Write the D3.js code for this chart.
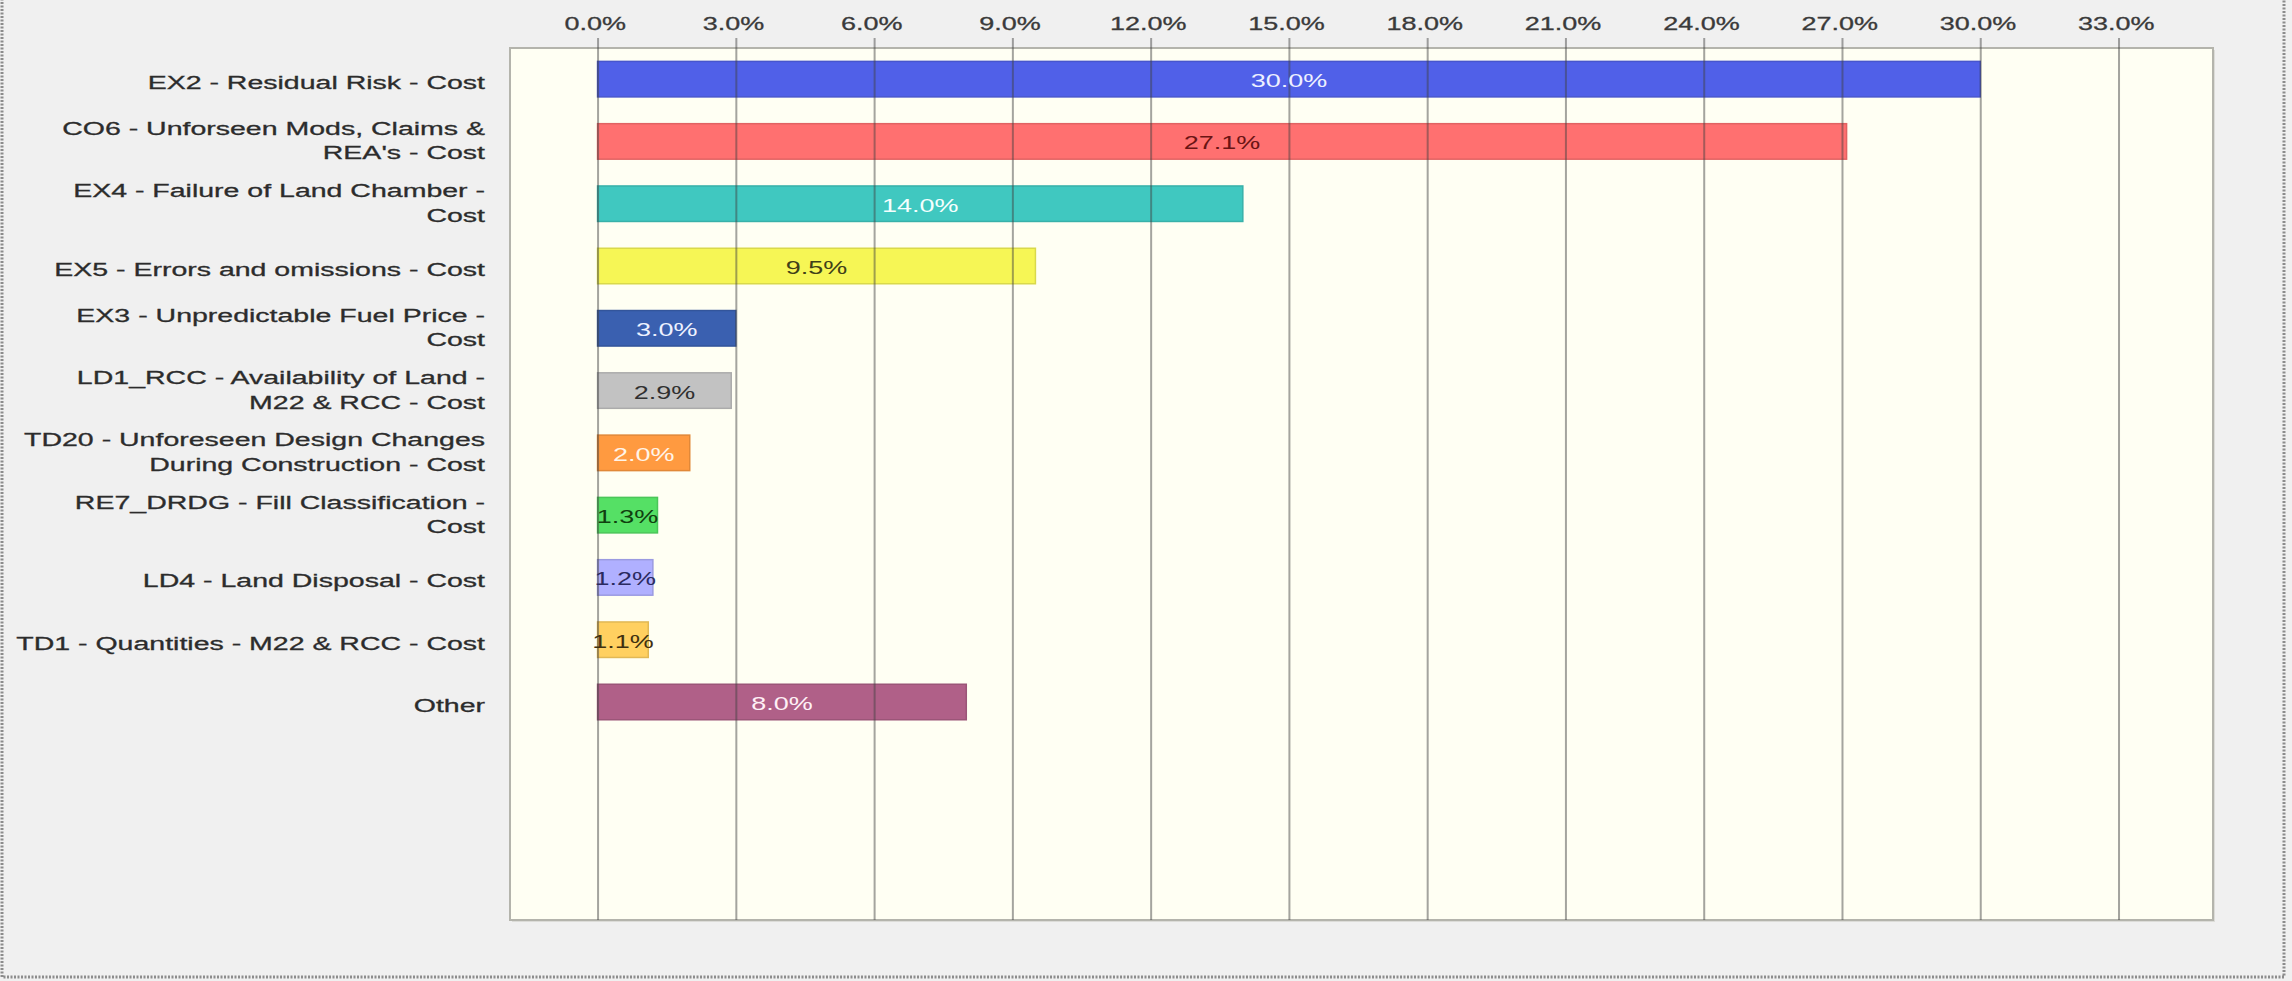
<!DOCTYPE html>
<html>
<head>
<meta charset="utf-8">
<title>Risk contribution to cost</title>
<script src="https://cdn.jsdelivr.net/npm/d3@7"></script>
<style>
    html, body { margin: 0; padding: 0; background: #f0f0f0; }
    #chart { width: 2292px; height: 981px; }
    text { font-family: "Liberation Sans", Arial, sans-serif; }
</style>
</head>
<body>
<div id="chart"></div>
<script>
// risk drivers, top to bottom ("\n" marks where the label wraps)
const categories = [
    'EX2 - Residual Risk - Cost',
    'CO6 - Unforseen Mods, Claims &\nREA\'s - Cost',
    'EX4 - Failure of Land Chamber -\nCost',
    'EX5 - Errors and omissions - Cost',
    'EX3 - Unpredictable Fuel Price -\nCost',
    'LD1_RCC - Availability of Land -\nM22 & RCC - Cost',
    'TD20 - Unforeseen Design Changes\nDuring Construction - Cost',
    'RE7_DRDG - Fill Classification -\nCost',
    'LD4 - Land Disposal - Cost',
    'TD1 - Quantities - M22 & RCC - Cost',
    'Other'
];
const shares = [30.0, 27.1, 14.0, 9.5, 3.0, 2.9, 2.0, 1.3, 1.2, 1.1, 8.0];
const tickValues = [0, 3, 6, 9, 12, 15, 18, 21, 24, 27, 30, 33];

const barColors = ['#5060e8', '#ff7070', '#40c8c0', '#f6f655', '#3a60b0', '#c2c2c2',
                   '#ff9a40', '#55e065', '#b0b0ff', '#ffd060', '#b06088'];
const labelColors = ['#eef0ff', '#6a1414', '#f4fffe', '#404018', '#eef2ff', '#303030',
                     '#fff4e8', '#10400f', '#2a2a60', '#403010', '#fff0f6'];

class BarChart {
    constructor(containerId) {
        this.containerId = containerId;
        this.width = 2292;
        this.height = 981;
        this.plot = { left: 510, right: 2213, top: 48, bottom: 920 };
        this.rowSlots = 14;      // the frame has room for 14 rows, 11 are used
        this.stretch = 1.5;      // the source picture is stretched sideways
        this.fontSize = 19;
    }

    init() {
        this.data = categories.map((c, i) => ({ name: c, value: shares[i], i }));
        this.setupSVG();
        this.drawFrame();
        this.drawBars();
        this.drawAxis();
        this.drawLabels();
    }

    setupSVG() {
        const container = d3.select(`#${this.containerId}`);
        container.selectAll('*').remove();
        this.svg = container.append('svg')
            .attr('width', this.width)
            .attr('height', this.height);

        const p = this.plot;
        const rowStep = (p.bottom - p.top) / this.rowSlots;

        this.xScale = d3.scaleLinear()
            .domain([-1.9, 35.05])
            .range([p.left, p.right]);

        this.yScale = d3.scaleBand()
            .domain(this.data.map(d => d.name))
            .range([p.top, p.top + rowStep * this.data.length])
            .paddingInner(0.43)
            .paddingOuter(0.215);
    }

    drawFrame() {
        const p = this.plot;
        // dotted outer border of the panel
        this.svg.append('rect')
            .attr('x', 2).attr('y', -10)
            .attr('width', this.width - 10).attr('height', this.height + 6)
            .attr('fill', 'none')
            .attr('stroke', '#8c8c8c')
            .attr('stroke-width', 3)
            .attr('stroke-dasharray', '2,1.5');

        // soft shadow then the plot area
        this.svg.append('rect')
            .attr('x', p.left + 2).attr('y', p.top + 2)
            .attr('width', p.right - p.left).attr('height', p.bottom - p.top)
            .attr('fill', '#dcdcd8');

        this.svg.append('rect')
            .attr('x', p.left).attr('y', p.top)
            .attr('width', p.right - p.left).attr('height', p.bottom - p.top)
            .attr('fill', '#fffff3')
            .attr('stroke', '#b4b4ac')
            .attr('stroke-width', 2);
    }

    drawBars() {
        const x0 = this.xScale(0);
        this.svg.selectAll('.bar')
            .data(this.data)
            .enter()
            .append('rect')
            .attr('class', 'bar')
            .attr('x', x0)
            .attr('y', d => this.yScale(d.name))
            .attr('width', d => this.xScale(d.value) - x0)
            .attr('height', this.yScale.bandwidth())
            .attr('fill', d => barColors[d.i])
            .attr('stroke', d => d3.color(barColors[d.i]).darker(0.35))
            .attr('stroke-width', 1.5);
    }

    drawAxis() {
        const p = this.plot;
        const axisY = p.top - 10;
        const axis = d3.axisTop(this.xScale)
            .tickValues(tickValues)
            .tickSize(-(p.bottom - axisY))
            .tickPadding(8)
            .tickFormat(d => d3.format('.1f')(d) + '%');

        const g = this.svg.append('g')
            .attr('class', 'axis')
            .attr('transform', `translate(0,${axisY})`)
            .call(axis);

        g.select('.domain').remove();
        g.selectAll('.tick line')
            .attr('stroke', '#404040')
            .attr('stroke-opacity', 0.48)
            .attr('stroke-width', 2);
        g.selectAll('.tick text')
            .attr('fill', '#3a3a3a')
            .attr('stroke', '#3a3a3a')
            .attr('stroke-width', 0.3)
            .attr('x', -2)
            .style('font-size', `${this.fontSize}px`)
            .attr('transform', 'scale(1.42,1)');
    }

    drawLabels() {
        const s = this.stretch;
        const half = this.yScale.bandwidth() / 2;

        // category names on the left, right aligned
        const names = this.svg.selectAll('.cat')
            .data(this.data)
            .enter()
            .append('text')
            .attr('class', 'cat')
            .attr('text-anchor', 'end')
            .attr('fill', '#2c2c2c')
            .attr('stroke', '#2c2c2c')
            .attr('stroke-width', 0.3)
            .style('font-size', `${this.fontSize}px`)
            .attr('transform', d => `translate(485,${this.yScale(d.name) + half}) scale(${s},1)`);

        names.each(function (d) {
            const lines = d.name.split('\n');
            const el = d3.select(this);
            if (lines.length === 1) {
                el.append('tspan').attr('x', 0).attr('y', 10).text(lines[0]);
            } else {
                lines.forEach((l, k) => {
                    el.append('tspan').attr('x', 0).attr('y', k === 0 ? -6.5 : 18).text(l);
                });
            }
        });

        // value labels centred on each bar
        const x0 = this.xScale(0);
        this.svg.selectAll('.val')
            .data(this.data)
            .enter()
            .append('text')
            .attr('class', 'val')
            .attr('text-anchor', 'middle')
            .attr('fill', d => labelColors[d.i])
            .style('font-size', `${this.fontSize}px`)
            .attr('transform', d => `translate(${(x0 + this.xScale(d.value)) / 2},${this.yScale(d.name) + half + 8}) scale(1.42,1)`)
            .text(d => d3.format('.1f')(d.value) + '%');
    }
}

const chart = new BarChart('chart');
chart.init();
</script>
</body>
</html>
